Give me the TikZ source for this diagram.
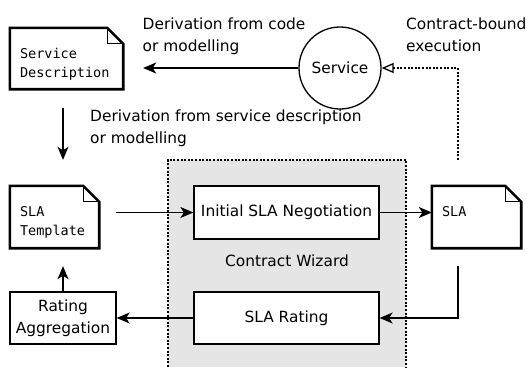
\documentclass[tikz,border=0pt]{standalone}
\usepackage{fontspec}
\setmainfont{DejaVu Sans}
\setmonofont{DejaVu Sans Mono}
\usetikzlibrary{arrows.meta}

\begin{document}
\begin{tikzpicture}[x=1pt,y=-1pt,
        font=\fontsize{15.4}{21.7}\selectfont,
        >={Stealth[length=13pt,width=11pt,inset=3.5pt]},
        box/.style={draw,line width=1.3pt,fill=white,align=center,inner sep=0pt},
        doc/.style={inner sep=0pt},
        doctext/.style={anchor=north west,inner sep=0pt,align=left,
            font=\ttfamily\fontsize{13.5}{19}\selectfont},
        note/.style={anchor=north west,inner sep=0pt,align=left},
        conn/.style={->,line width=1.3pt},
        dots/.style={line width=1.3pt,dash pattern=on 2pt off 1.6pt}]
    \useasboundingbox (0,0) rectangle (527,367);
    %% contract wizard area (runs off the bottom)
    \draw[dots,fill=black!10] (168,367) |- (406,160) -- (406,367);
    \node (wiz) at (287,261) {Contract Wizard};
    %% documents
    \node[doc,minimum width=113pt,minimum height=61pt] (sd) at (66.5,58.5) {};
    \node[doc,minimum width=89pt,minimum height=62pt] (tmpl) at (54.5,217) {};
    \node[doc,minimum width=89pt,minimum height=62pt] (sla) at (476.5,217) {};
    \foreach \d in {sd,tmpl,sla} {
        \draw[line width=2.6pt] (\d.south west) |- ([xshift=-16pt]\d.north east)
            -- ([yshift=-16pt]\d.north east) -- (\d.south east) -- cycle;
        \draw[line width=1.3pt] ([xshift=-16pt]\d.north east) |- ([yshift=-16pt]\d.north east);
    }
    \node[doctext] (sdtext) at ([shift={(10pt,-20pt)}]sd.north west) {Service\\Description};
    \node[doctext] (tmpltext) at ([shift={(10pt,-20pt)}]tmpl.north west) {SLA\\Template};
    \node[doctext] (slatext) at ([shift={(10pt,-20pt)}]sla.north west) {SLA};
    %% service and boxes
    \node[draw,circle,line width=1.3pt,minimum size=82pt,inner sep=0pt] (serv) at (340,68) {Service};
    \node[box,minimum width=185pt,minimum height=53pt] (isn) at (286.5,212.5) {Initial SLA Negotiation};
    \node[box,minimum width=185pt,minimum height=52pt] (rate) at (286.5,318) {SLA Rating};
    \node[box,minimum width=106pt,minimum height=52pt] (agg) at (63,318) {Rating\\Aggregation};
    %% labels
    \node[note] (codelbl) at (142.5,17.5) {Derivation from code\\or modelling};
    \node[note] (execlbl) at (406,17.5) {Contract-bound\\execution};
    \node[note] (desclbl) at (90,110) {Derivation from service description\\or modelling};
    %% connectors
    \coordinate (bend) at (458,160);
    \draw[conn,shorten >=20pt] (serv.west) -- (serv.west -| sd.east);
    \draw[conn,shorten <=19pt,shorten >=26pt] (sd.south -| agg.north) -- (tmpl.north -| agg.north);
    \draw[conn,shorten <=17pt] (tmpl.east |- isn.west) -- (isn.west);
    \draw[conn] (isn.east) -- (sla.west |- isn.east);
    \draw[conn,shorten <=18pt] (bend |- sla.south) |- (rate.east);
    \draw[conn] (rate.west) -- (agg.east);
    \draw[conn,shorten >=18pt] (agg.north) -- (agg.north |- tmpl.south);
    \draw[dots,-{Triangle[open,length=12pt,width=10pt]}] (bend) |- (serv.east);
\end{tikzpicture}
\end{document}
